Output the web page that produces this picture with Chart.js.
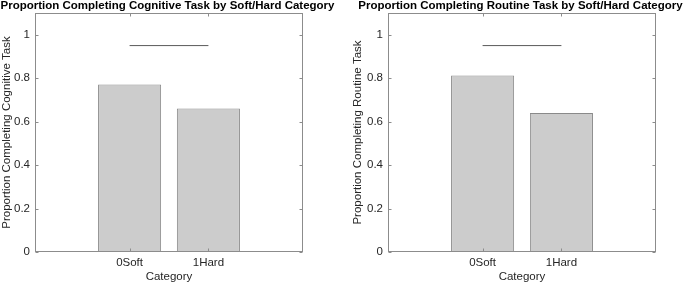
<!DOCTYPE html>
<html>
<head>
<meta charset="utf-8">
<script src="https://cdn.jsdelivr.net/npm/chart.js@4/dist/chart.umd.min.js"></script>
<style>
  html, body { margin: 0; padding: 0; background: #fff; }
  #wrap { position: relative; width: 685px; height: 285px; overflow: hidden; }
  .panel { position: absolute; top: 0; height: 285px; }
</style>
</head>
<body>
<div id="wrap">
  <div class="panel" style="left:0;width:343px"><canvas id="c1" width="343" height="285"></canvas></div>
  <div class="panel" style="left:343px;width:342px"><canvas id="c2" width="342" height="285"></canvas></div>
</div>
<script>
// ---- data ----
const categories = ['0Soft', '1Hard'];
const categoryPositions = [1, 2];
const cognitiveValues = [0.771, 0.661];
const routineValues = [0.812, 0.640];
const comparisonLineLevel = 0.95;
const yTickValues = [0, 0.2, 0.4, 0.6, 0.8, 1];
const yTickLabels = ['0', '0.2', '0.4', '0.6', '0.8', '1'];
const titles = [
  'Proportion Completing Cognitive Task by Soft/Hard Category',
  'Proportion Completing Routine Task by Soft/Hard Category'
];
const yLabels = ['Proportion Completing Cognitive Task', 'Proportion Completing Routine Task'];
const xLabel = 'Category';

const FONT = '"Liberation Sans", Arial, Helvetica, sans-serif';
const TEXT = '#262626';
const AXIS = '#8c8c8c';

const boxPlugin = {
  id: 'matlabBox',
  afterDraw(chart, args, opts) {
    const {ctx, chartArea: a, scales} = chart;
    const L = Math.round(a.left) + 0.5, R = Math.round(a.right) - 0.5;
    const T = Math.round(a.top) + 0.5, B = Math.round(a.bottom) - 0.5;
    ctx.save();
    ctx.strokeStyle = AXIS;
    ctx.lineWidth = 1;
    ctx.strokeRect(L, T, R - L, B - T);
    const tl = 3;
    ctx.beginPath();
    scales.y.ticks.forEach(t => {
      const y = Math.round(scales.y.getPixelForValue(t.value)) + 0.5;
      ctx.moveTo(L, y); ctx.lineTo(L + tl, y);
      ctx.moveTo(R, y); ctx.lineTo(R - tl, y);
    });
    scales.x.ticks.forEach(t => {
      const x = Math.round(scales.x.getPixelForValue(t.value)) + 0.5;
      ctx.moveTo(x, B); ctx.lineTo(x, B - tl);
      ctx.moveTo(x, T); ctx.lineTo(x, T + tl);
    });
    ctx.stroke();
    // title
    ctx.fillStyle = '#000';
    ctx.font = 'bold 11.5px ' + FONT;
    ctx.textAlign = 'center';
    ctx.textBaseline = 'alphabetic';
    ctx.fillText(opts.text, (a.left + a.right) / 2 - 1.5, 9);
    ctx.restore();
  }
};

function makeChart(id, values, title, yLabel, axisLeft, padRight, yTitlePad) {
  const barData = categoryPositions.map((x, i) => ({x, y: values[i]}));
  const lineData = [
    {x: categoryPositions[0], y: comparisonLineLevel},
    {x: categoryPositions[categoryPositions.length - 1], y: comparisonLineLevel}
  ];
  return new Chart(document.getElementById(id), {
    type: 'bar',
    data: {
      datasets: [
        {
          type: 'line',
          data: lineData,
          borderColor: '#5a5a5a',
          borderWidth: 1,
          pointRadius: 0,
          fill: false,
          order: 0
        },
        {
          type: 'bar',
          data: barData,
          backgroundColor: '#cccccc',
          borderColor: '#8a8a8a',
          borderWidth: 1,
          borderSkipped: false,
          barPercentage: 1,
          categoryPercentage: 0.8,
          order: 1
        }
      ]
    },
    options: {
      responsive: false,
      animation: false,
      devicePixelRatio: 1,
      layout: {padding: {left: 0, top: 13, right: padRight, bottom: 0}},
      plugins: {
        legend: {display: false},
        tooltip: {enabled: false},
        title: {display: false},
        matlabBox: {text: title}
      },
      scales: {
        x: {
          type: 'linear',
          min: -0.2,
          max: 3.2,
          offset: false,
          grid: {display: false, drawTicks: false},
          border: {display: false},
          afterBuildTicks: s => { s.ticks = categoryPositions.map(v => ({value: v})); },
          afterFit: s => { s.height = 33; },
          ticks: {
            padding: 4,
            maxRotation: 0,
            autoSkip: false,
            color: TEXT,
            font: {family: FONT, size: 11.5},
            callback: (v) => categories[categoryPositions.indexOf(v)]
          },
          title: {
            display: true,
            text: xLabel,
            color: TEXT,
            font: {family: FONT, size: 11.5},
            padding: {top: 0, bottom: 1}
          }
        },
        y: {
          type: 'linear',
          min: 0,
          max: 1.1,
          grid: {display: false, drawTicks: false},
          border: {display: false},
          afterBuildTicks: s => { s.ticks = yTickValues.map(v => ({value: v})); },
          afterFit: s => { s.width = axisLeft; },
          ticks: {
            padding: 5,
            color: TEXT,
            font: {family: FONT, size: 11.5},
            callback: (v) => yTickLabels[yTickValues.indexOf(v)]
          },
          title: {
            display: true,
            text: yLabel,
            color: TEXT,
            font: {family: FONT, size: 11.5},
            padding: {top: yTitlePad, bottom: 0}
          }
        }
      }
    },
    plugins: [boxPlugin]
  });
}

makeChart('c1', cognitiveValues, titles[0], yLabels[0], 35, 40, 0);
makeChart('c2', routineValues, titles[1], yLabels[1], 45, 29, 8);
</script>
</body>
</html>
